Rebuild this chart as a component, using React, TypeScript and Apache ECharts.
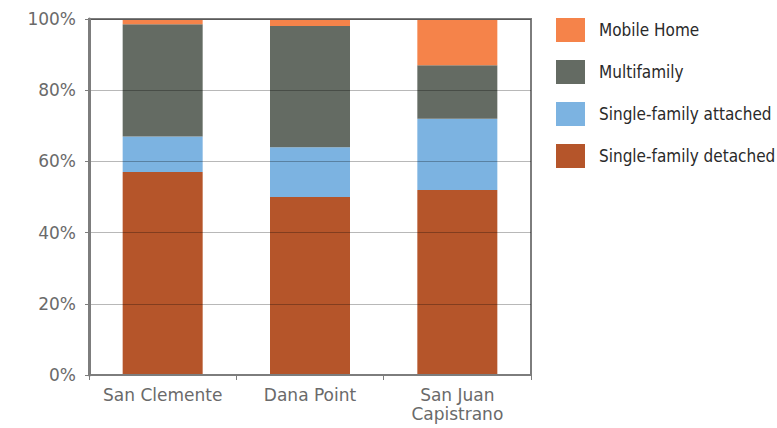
import React, { useEffect, useRef } from "react";
import * as echarts from "echarts";

const cities = ["San Clemente", "Dana Point", "San Juan\nCapistrano"];
const singleDetached = [57, 50, 52];
const singleAttached = [10, 14, 20];
const multifamily = [31.5, 34, 15];
const mobileHome = [1.5, 2, 13];
const yTicks = [0, 20, 40, 60, 80, 100];

const AXIS_GRAY = "#7d7d7d";
const LABEL_GRAY = "#6a6a6a";

export default function App() {
  const ref = useRef<HTMLDivElement>(null);

  useEffect(() => {
    if (!ref.current) return;
    const chart = echarts.init(ref.current, null, { renderer: "svg" });

    const bar = (name: string, data: number[], color: string) => ({
      name,
      type: "bar",
      stack: "total",
      data,
      barWidth: 80,
      itemStyle: { color },
      emphasis: { disabled: true },
    });

    chart.setOption({
      animation: false,
      backgroundColor: "#ffffff",
      grid: {
        left: 89,
        top: 19,
        right: 246,
        bottom: 53,
        containLabel: false,
        show: true,
        borderColor: AXIS_GRAY,
        borderWidth: 2,
        backgroundColor: "transparent",
        z: 10,
      },
      legend: {
        orient: "vertical",
        left: 556,
        top: 18,
        padding: 0,
        itemWidth: 29,
        itemHeight: 24,
        itemGap: 18,
        icon: "rect",
        data: ["Mobile Home", "Multifamily", "Single-family attached", "Single-family detached"],
        textStyle: {
          fontFamily: "'DejaVu Sans Condensed', 'DejaVu Sans', sans-serif",
          fontSize: 17,
          color: "#2a2a2a",
          padding: [0, 0, 0, 9],
        },
      },
      xAxis: {
        type: "category",
        data: cities,
        axisLine: { show: true, lineStyle: { color: AXIS_GRAY, width: 2 } },
        axisTick: { show: true, length: 5, lineStyle: { color: AXIS_GRAY, width: 1 } },
        axisLabel: {
          interval: 0,
          fontFamily: "'DejaVu Sans', sans-serif",
          fontSize: 17,
          color: LABEL_GRAY,
          margin: 10,
          lineHeight: 19,
        },
        z: 10,
      },
      yAxis: {
        type: "value",
        min: yTicks[0],
        max: yTicks[yTicks.length - 1],
        interval: yTicks[1] - yTicks[0],
        axisLine: { show: true, lineStyle: { color: AXIS_GRAY, width: 3 } },
        axisTick: { show: true, length: 4, lineStyle: { color: AXIS_GRAY, width: 1 } },
        axisLabel: {
          formatter: "{value}%",
          fontFamily: "'DejaVu Sans', sans-serif",
          fontSize: 17,
          color: LABEL_GRAY,
          margin: 13,
        },
        splitLine: { show: true, lineStyle: { color: "rgba(0,0,0,0.28)", width: 1 } },
        z: 10,
      },
      series: [
        bar("Single-family detached", singleDetached, "#b5552a"),
        bar("Single-family attached", singleAttached, "#7cb3e1"),
        bar("Multifamily", multifamily, "#646b63"),
        bar("Mobile Home", mobileHome, "#f5834a"),
      ],
    });

    return () => chart.dispose();
  }, []);

  return (
    <div
      ref={ref}
      style={{ position: "absolute", left: 0, top: 0, width: 777, height: 428 }}
    />
  );
}
